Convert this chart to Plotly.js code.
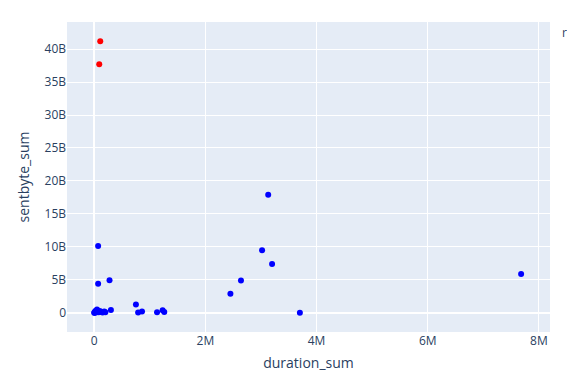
<!DOCTYPE html>
<html>
<head>
<meta charset="utf-8">
<script src="https://cdn.plot.ly/plotly-3.0.1.min.js"></script>
<style>html,body{margin:0;padding:0;background:#fff;}#chart{width:567px;height:384px;}</style>
</head>
<body>
<div id="chart"></div>
<script>
// duration_sum (seconds) and sentbyte_sum (bytes)
const blueDuration = [0, 5000, 10000, 20000, 30000, 40000, 50000, 60000, 80000, 100000, 120000, 150000, 180000, 200000,
  70000, 70000, 275000, 300000, 750000, 790000, 860000, 1130000, 1230000, 1260000,
  2450000, 2640000, 3020000, 3130000, 3200000, 3700000, 7680000];
const blueSent = [0, 2e7, 1e8, 3e8, 5e7, 2.5e8, 5e8, 2e8, 1e8, 3e8, 1.5e8, 5e7, 2e8, 1e8,
  1.015e10, 4.4e9, 4.95e9, 4.5e8, 1.26e9, 5e7, 2e8, 1e8, 4e8, 1.5e8,
  2.9e9, 4.9e9, 9.5e9, 1.79e10, 7.4e9, 0, 5.9e9];
const redDuration = [108000, 90000];
const redSent = [4.12e10, 3.77e10];

const traces = [
  {type: 'scatter', mode: 'markers', x: blueDuration, y: blueSent,
   marker: {color: 'blue', size: 6}, showlegend: false},
  {type: 'scatter', mode: 'markers', x: redDuration, y: redSent,
   marker: {color: 'red', size: 6}, showlegend: false}
];

const layout = {
  width: 567, height: 384,
  margin: {l: 67, r: 17, t: 22, b: 52},
  paper_bgcolor: '#fff', plot_bgcolor: '#E5ECF6',
  font: {family: '"Open Sans", verdana, arial, sans-serif', size: 12, color: '#2a3f5f'},
  xaxis: {title: {text: 'duration_sum', font: {size: 14}, standoff: 10}, range: [-490000, 8200000],
          gridcolor: 'white', zerolinecolor: 'white', zerolinewidth: 2, ticks: '', tickvals: [0, 2e6, 4e6, 6e6, 8e6], ticktext: ['0','2M','4M','6M','8M']},
  yaxis: {title: {text: 'sentbyte_sum', font: {size: 14}, standoff: 11}, range: [-2.9e9, 4.41e10],
          gridcolor: 'white', zerolinecolor: 'white', zerolinewidth: 2, ticks: '',
          tickvals: [0, 5e9, 1e10, 1.5e10, 2e10, 2.5e10, 3e10, 3.5e10, 4e10],
          ticktext: ['0','5B','10B','15B','20B','25B','30B','35B','40B']},
  annotations: [{text: 'r', xref: 'paper', yref: 'paper', x: 1.02, y: 1.0, xanchor: 'left', yanchor: 'top',
                 showarrow: false, font: {size: 12, color: '#2a3f5f'}}]
};

Plotly.newPlot('chart', traces, layout, {displayModeBar: false});
</script>
</body>
</html>
